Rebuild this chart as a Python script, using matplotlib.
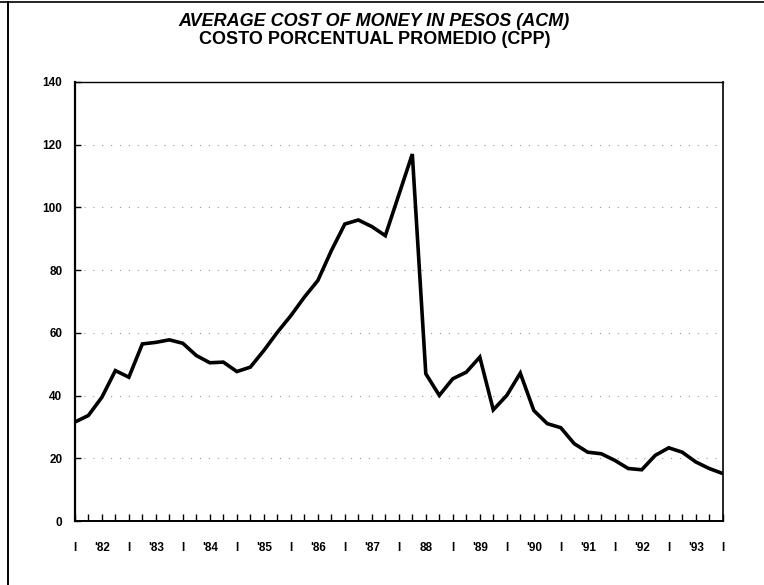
import matplotlib
matplotlib.use('Agg')
import matplotlib.pyplot as plt
from matplotlib.lines import Line2D

# quarterly CPP readings, 1982 Q1 .. 1994 Q1 (percent)
quarters = [1982 + 0.25 * i for i in range(49)]
cpp = [31.6, 33.7, 39.5, 48.0, 45.9, 56.5, 57.0, 57.8,
       56.7, 52.8, 50.5, 50.7, 47.7, 49.1, 54.4, 60.2,
       65.5, 71.4, 76.7, 86.2, 94.7, 96.0, 93.9, 91.0,
       104.0, 117.0, 47.0, 40.1, 45.4, 47.5, 52.3, 35.5,
       40.1, 47.2, 35.3, 31.1, 29.8, 24.7, 22.0, 21.5,
       19.4, 16.8, 16.4, 21.0, 23.4, 22.0, 18.9, 16.8,
       15.2]

year_labels = ["'82", "'83", "'84", "'85", "'86", "'87", "88",
               "'89", "'90", "'91", "'92", "'93"]
y_ticks = [0, 20, 40, 60, 80, 100, 120, 140]

plt.rcParams['font.family'] = ['Liberation Sans', 'DejaVu Sans']

fig = plt.figure(figsize=(7.64, 5.85), dpi=100)
ax = fig.add_axes([0.098, 0.109, 0.848, 0.751])

ax.plot(quarters, cpp, color='black', linewidth=2.6, solid_joinstyle='miter')

ax.set_xlim(1982, 1994)
ax.set_ylim(0, 140)

# y axis
ax.set_yticks(y_ticks)
ax.set_yticklabels([str(v) for v in y_ticks], fontsize=8.5, fontweight='bold')
ax.tick_params(axis='y', direction='in', length=4, width=1, pad=9)

# x axis: "I" at year boundaries, year labels in the middle, quarter ticks
pos, labs = [], []
for k in range(13):
    pos.append(1982 + k)
    labs.append('I')
    if k < 12:
        pos.append(1982 + k + 0.5)
        labs.append(year_labels[k])
ax.set_xticks(pos)
ax.set_xticklabels(labs, fontsize=8.5, fontweight='bold')
ax.set_xticks([1982 + 0.25 * i for i in range(49)], minor=True)
ax.tick_params(axis='x', which='both', direction='in', length=5, width=1, pad=15)

# faint dotted grid
ax.yaxis.grid(True, linestyle=(0, (1, 7)), color='#999999', linewidth=0.8)
ax.set_axisbelow(True)

for side in ['left', 'bottom', 'right']:
    ax.spines[side].set_color('black')
ax.spines['left'].set_linewidth(1.6)
ax.spines['bottom'].set_linewidth(1.4)
ax.spines['right'].set_linewidth(1.2)
ax.spines['top'].set_linestyle((0, (3, 1)))
ax.spines['top'].set_linewidth(1.0)

# titles
fig.text(0.49, 0.963, 'AVERAGE COST OF MONEY IN PESOS (ACM)', ha='center', va='center',
         fontsize=13, fontweight='bold', style='italic')
fig.text(0.49, 0.932, 'COSTO PORCENTUAL PROMEDIO (CPP)', ha='center', va='center',
         fontsize=13, fontweight='bold')

# page frame lines from the scan
fig.add_artist(Line2D([0, 1], [0.997, 0.997], color='black', linewidth=1.2))
fig.add_artist(Line2D([0.011, 0.011], [0, 0.997], color='black', linewidth=1.4))

fig.savefig('out.png', dpi=100)
